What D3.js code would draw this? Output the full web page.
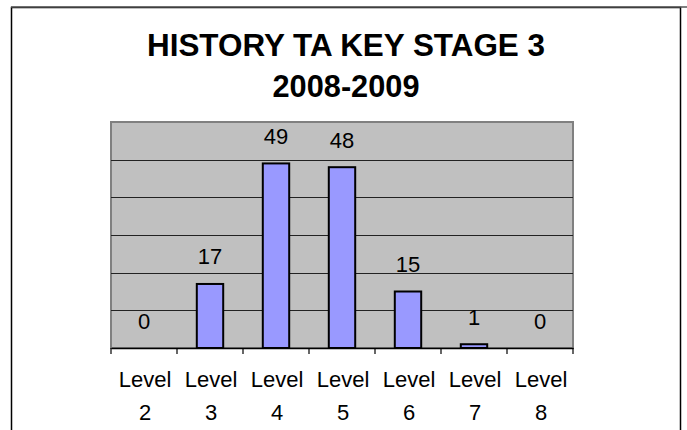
<!DOCTYPE html>
<html>
<head>
<meta charset="utf-8">
<script src="https://cdnjs.cloudflare.com/ajax/libs/d3/7.8.5/d3.min.js"></script>
<style>
  body { margin: 0; background: #fff; }
  svg { display: block; font-family: Arial, "Liberation Sans", sans-serif; }
</style>
</head>
<body>
<div id="chart"></div>
<script>
// values
var categories = ["Level 2", "Level 3", "Level 4", "Level 5", "Level 6", "Level 7", "Level 8"];
var pupils = [0, 17, 49, 48, 15, 1, 0];
var yMax = 60;
var titleLines = ["HISTORY TA KEY STAGE 3", "2008-2009"];

var W = 687, H = 430;
var plot = { left: 111, right: 573, top: 122, bottom: 348 };

var svg = d3.select("#chart").append("svg")
    .attr("width", W)
    .attr("height", H);

// chart area frame
svg.append("rect")
    .attr("x", 11.5).attr("y", 7.5)
    .attr("width", 669).attr("height", H)
    .attr("fill", "#fff")
    .attr("stroke", "#000")
    .attr("stroke-width", 1.5);
svg.append("line")
    .attr("x1", 11).attr("x2", W)
    .attr("y1", 7).attr("y2", 7)
    .attr("stroke", "#555").attr("stroke-width", 1.5);

// title
svg.selectAll("text.title")
    .data(titleLines)
  .enter().append("text")
    .attr("class", "title")
    .attr("x", 346)
    .attr("y", function(d, i) { return 56 + i * 41; })
    .attr("text-anchor", "middle")
    .attr("font-weight", "bold")
    .attr("font-size", 31)
    .attr("textLength", function(d, i) { return i == 0 ? 398 : 147; })
    .attr("lengthAdjust", "spacingAndGlyphs")
    .text(function(d) { return d; });

var x = d3.scaleBand()
    .domain(categories)
    .range([plot.left, plot.right])
    .padding(0);

var y = d3.scaleLinear()
    .domain([0, yMax])
    .range([plot.bottom, plot.top]);

// plot background
svg.append("rect")
    .attr("x", plot.left).attr("y", plot.top)
    .attr("width", plot.right - plot.left)
    .attr("height", plot.bottom - plot.top)
    .attr("fill", "#c0c0c0")
    .attr("stroke", "#808080")
    .attr("stroke-width", 2);

// gridlines
svg.append("g")
    .selectAll("line")
    .data(y.ticks(6).filter(function(t) { return t > 0 && t < yMax; }))
  .enter().append("line")
    .attr("x1", plot.left).attr("x2", plot.right)
    .attr("y1", function(d) { return Math.round(y(d)) + 0.5; })
    .attr("y2", function(d) { return Math.round(y(d)) + 0.5; })
    .attr("stroke", "#222")
    .attr("stroke-width", 1);

// bars
var barW = x.bandwidth() * 0.4;
svg.append("g")
    .selectAll("rect")
    .data(pupils)
  .enter().append("rect")
    .attr("x", function(d, i) { return x(categories[i]) + (x.bandwidth() - barW) / 2; })
    .attr("y", function(d) { return y(d); })
    .attr("width", barW)
    .attr("height", function(d) { return y(0) - y(d); })
    .attr("fill", function(d) { return d > 0 ? "#9999ff" : "none"; })
    .attr("stroke", function(d) { return d > 0 ? "#000" : "none"; })
    .attr("stroke-width", 2);

// value labels
svg.append("g")
    .selectAll("text")
    .data(pupils)
  .enter().append("text")
    .attr("x", function(d, i) { return x(categories[i]) + x.bandwidth() / 2; })
    .attr("y", function(d) { return y(d) - 19.5; })
    .attr("text-anchor", "middle")
    .attr("font-size", 22)
    .attr("fill", "#000")
    .text(function(d) { return d; });

// x axis
var xAxis = svg.append("g")
    .attr("transform", "translate(0," + plot.bottom + ")")
    .call(d3.axisBottom(x).tickSize(0).tickFormat(""));
xAxis.select(".domain").attr("stroke", "#000").attr("stroke-width", 1.5);

// ticks sit on the band edges
var edges = categories.map(function(c) { return x(c); }).concat([plot.right]);
xAxis.selectAll("line.edge")
    .data(edges)
  .enter().append("line")
    .attr("class", "edge")
    .attr("x1", function(d) { return d; }).attr("x2", function(d) { return d; })
    .attr("y1", 0).attr("y2", 6)
    .attr("stroke", "#000").attr("stroke-width", 1.2);

// two-line category labels
var lbl = svg.append("g")
    .selectAll("text")
    .data(categories)
  .enter().append("text")
    .attr("text-anchor", "middle")
    .attr("font-size", 22)
    .attr("fill", "#000");
lbl.selectAll("tspan")
    .data(function(d) {
        var cx = x(d) + x.bandwidth() / 2;
        return d.split(" ").map(function(w) { return { w: w, cx: cx }; });
    })
  .enter().append("tspan")
    .attr("x", function(d) { return d.cx + 1; })
    .attr("y", function(d, i) { return 387 + i * 32.5; })
    .text(function(d) { return d.w; });
</script>
</body>
</html>
